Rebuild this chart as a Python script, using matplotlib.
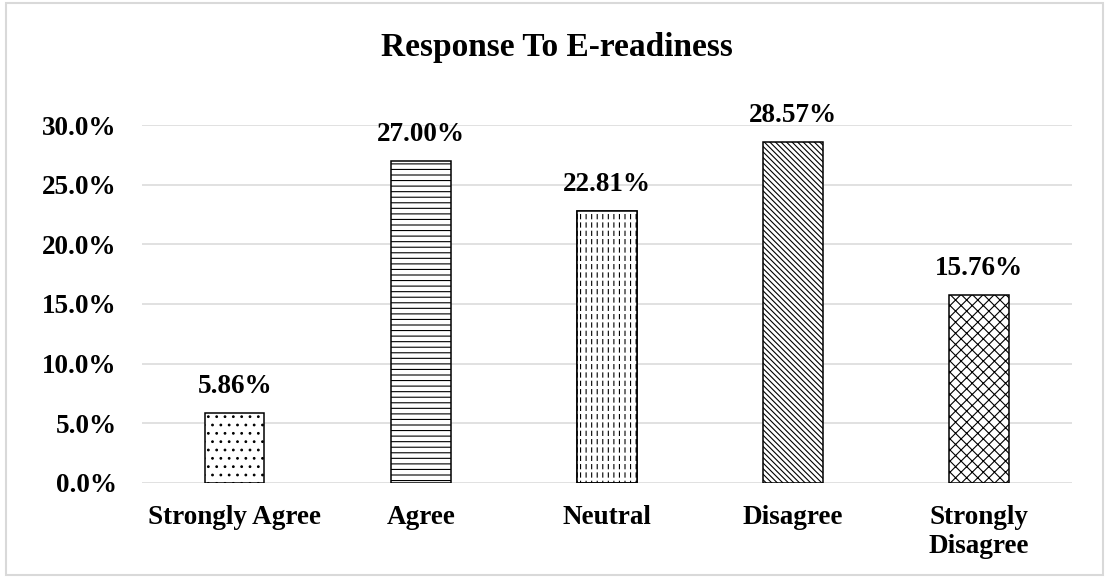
import matplotlib
matplotlib.use("Agg")
import matplotlib.pyplot as plt
from matplotlib.patches import Rectangle
from matplotlib.ticker import PercentFormatter

plt.rcParams['font.family'] = ['Liberation Serif', 'DejaVu Serif']
plt.rcParams['font.weight'] = 'bold'
plt.rcParams['hatch.linewidth'] = 0.8

categories = ['Strongly Agree', 'Agree', 'Neutral', 'Disagree', 'Strongly\nDisagree']
shares = [5.86, 27.00, 22.81, 28.57, 15.76]
hatches = ['..', '---', '|||', '\\' * 6, 'xxx']
yticks = [0, 5, 10, 15, 20, 25, 30]

fig = plt.figure(figsize=(11.06, 5.78), dpi=100)
ax = fig.add_axes([0.1281, 0.1644, 0.8412, 0.6193])

x = list(range(len(categories)))
bars = ax.bar(x, shares, width=0.32, color='white', edgecolor='black',
              linewidth=1.1, zorder=3)
for b, h in zip(bars, hatches):
    b.set_hatch(h)

# break the vertical lines of the neutral bar into dashes
gaps = ax.bar(x[2], shares[2], width=0.32, color='none', edgecolor='white',
              linewidth=0, hatch='--', zorder=3.5)
if hasattr(gaps[0], 'set_hatch_linewidth'):
    gaps[0].set_hatch_linewidth(2.2)
ax.bar(x[2], shares[2], width=0.32, color='none', edgecolor='black',
       linewidth=1.1, zorder=4)

for xi, v in zip(x, shares):
    ax.annotate(f'{v:.2f}%', (xi, v), xytext=(0, 10), textcoords='offset points',
                ha='center', va='bottom', fontsize=19.5, fontweight='bold',
                annotation_clip=False)

ax.set_ylim(0, 30)
ax.set_xlim(-0.5, len(categories) - 0.5)
ax.set_yticks(yticks)
ax.yaxis.set_major_formatter(PercentFormatter(decimals=1))
ax.set_xticks(x)
ax.set_xticklabels(categories, linespacing=1.2)
ax.tick_params(axis='both', length=0, labelsize=19.5)
ax.tick_params(axis='y', pad=18)
ax.tick_params(axis='x', pad=16)
ax.grid(axis='y', color='#d9d9d9', linewidth=1.1, zorder=0)
for s in ax.spines.values():
    s.set_visible(False)

fig.text(0.504, 0.918, 'Response To E-readiness', ha='center', va='center',
         fontsize=24, fontweight='bold')

fig.patches.append(Rectangle((0.005, 0.005), 0.992, 0.99, transform=fig.transFigure,
                             fill=False, edgecolor='#d9d9d9', linewidth=1.5))

fig.savefig('out.png', dpi=100)
